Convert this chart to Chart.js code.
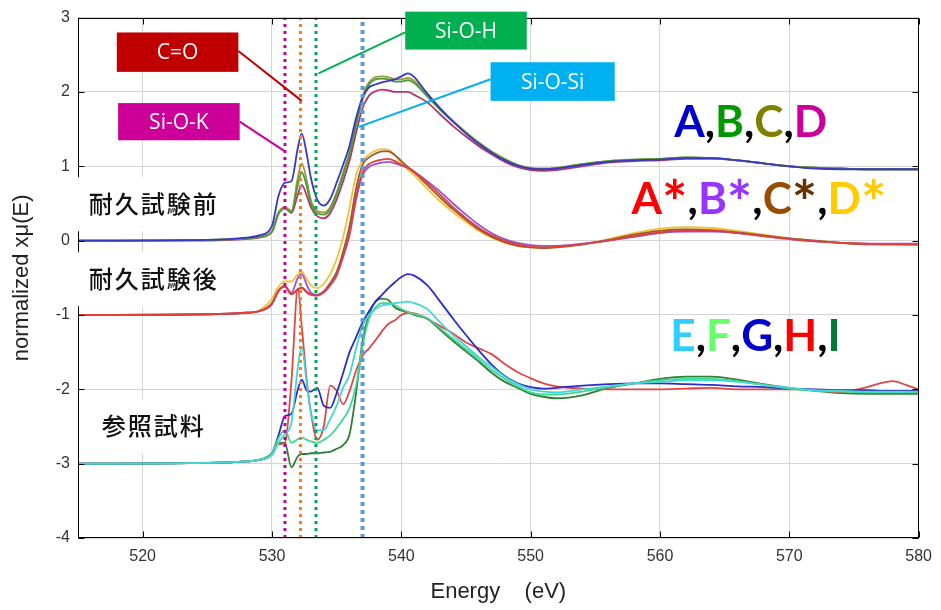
<!DOCTYPE html>
<html lang="ja">
<head>
<meta charset="UTF-8">
<title>O K-edge XANES</title>
<script src="https://cdn.jsdelivr.net/npm/chart.js"></script>
<style>
  html, body { margin: 0; padding: 0; background: #fff; }
</style>
</head>
<body>
<canvas id="xas" width="941" height="610"></canvas>
<script>
// energy grid (eV), shared by every spectrum
const energy = [515, 525, 528, 529, 530, 530.5, 531, 531.5, 532, 532.3,
  532.7, 533, 533.5, 534, 534.5, 535, 535.5, 536, 536.5, 537,
  537.5, 538, 538.5, 539, 539.5, 540, 540.5, 541, 542, 543,
  544, 545, 546, 547, 548, 549, 550, 551, 552, 554,
  556, 558, 560, 562, 564, 566, 568, 570, 572, 574,
  576, 577, 578, 579, 580];

// before durability test (offset 0)
const A = [0.00, 0.01, 0.04, 0.07, 0.20, 0.60, 0.78, 0.80, 1.25, 1.44,
  1.15, 0.85, 0.55, 0.47, 0.56, 0.78, 1.02, 1.28, 1.65, 1.92,
  2.06, 2.10, 2.13, 2.15, 2.17, 2.21, 2.25, 2.20, 1.98, 1.78,
  1.60, 1.44, 1.30, 1.18, 1.08, 1.01, 0.97, 0.96, 0.97, 1.02,
  1.06, 1.08, 1.09, 1.11, 1.11, 1.08, 1.04, 1.00, 0.97, 0.96,
  0.96, 0.96, 0.96, 0.96, 0.96];
const B = [0.00, 0.01, 0.03, 0.05, 0.12, 0.36, 0.43, 0.38, 0.75, 0.92,
  0.72, 0.50, 0.37, 0.35, 0.42, 0.62, 0.88, 1.16, 1.55, 1.90,
  2.10, 2.17, 2.18, 2.17, 2.14, 2.14, 2.16, 2.12, 1.94, 1.76,
  1.60, 1.45, 1.31, 1.19, 1.09, 1.01, 0.97, 0.96, 0.97, 1.03,
  1.07, 1.09, 1.10, 1.12, 1.11, 1.08, 1.04, 1.00, 0.98, 0.97,
  0.96, 0.96, 0.96, 0.96, 0.96];
const C = [0.00, 0.01, 0.03, 0.05, 0.13, 0.38, 0.45, 0.40, 0.85, 1.04,
  0.80, 0.55, 0.40, 0.38, 0.45, 0.65, 0.92, 1.20, 1.60, 1.95,
  2.13, 2.20, 2.21, 2.20, 2.17, 2.17, 2.19, 2.15, 1.96, 1.78,
  1.61, 1.46, 1.32, 1.20, 1.10, 1.02, 0.98, 0.97, 0.98, 1.03,
  1.07, 1.09, 1.10, 1.12, 1.11, 1.08, 1.04, 1.00, 0.98, 0.97,
  0.96, 0.96, 0.96, 0.96, 0.96];
const D = [0.00, 0.00, 0.02, 0.04, 0.12, 0.36, 0.44, 0.37, 0.62, 0.75,
  0.60, 0.45, 0.33, 0.30, 0.37, 0.55, 0.80, 1.08, 1.45, 1.78,
  1.95, 2.01, 2.03, 2.02, 2.00, 2.00, 2.00, 1.96, 1.86, 1.70,
  1.54, 1.40, 1.27, 1.16, 1.06, 0.99, 0.95, 0.94, 0.95, 1.00,
  1.05, 1.07, 1.08, 1.10, 1.10, 1.08, 1.04, 1.00, 0.98, 0.97,
  0.96, 0.96, 0.96, 0.96, 0.96];

// after durability test (offset -1)
const Astar = [-1.00, -0.99, -0.97, -0.95, -0.85, -0.68, -0.62, -0.72, -0.66, -0.64,
  -0.70, -0.73, -0.74, -0.70, -0.60, -0.47, -0.20, 0.10, 0.60, 0.92,
  1.03, 1.07, 1.09, 1.10, 1.07, 1.02, 0.98, 0.92, 0.78, 0.62,
  0.45, 0.30, 0.17, 0.07, 0.00, -0.05, -0.08, -0.09, -0.08, -0.05,
  0.00, 0.06, 0.11, 0.13, 0.13, 0.10, 0.06, 0.02, -0.01, -0.03,
  -0.04, -0.05, -0.05, -0.05, -0.05];
const Bstar = [-1.00, -0.99, -0.97, -0.95, -0.85, -0.68, -0.62, -0.70, -0.50, -0.45,
  -0.60, -0.70, -0.73, -0.69, -0.60, -0.46, -0.22, 0.08, 0.55, 0.88,
  0.99, 1.03, 1.05, 1.06, 1.04, 1.01, 0.98, 0.93, 0.80, 0.66,
  0.50, 0.35, 0.21, 0.10, 0.02, -0.03, -0.06, -0.07, -0.07, -0.04,
  0.00, 0.05, 0.10, 0.12, 0.12, 0.10, 0.06, 0.02, -0.01, -0.03,
  -0.04, -0.04, -0.04, -0.04, -0.04];
const Cstar = [-1.00, -0.99, -0.97, -0.95, -0.84, -0.67, -0.61, -0.72, -0.65, -0.63,
  -0.69, -0.72, -0.73, -0.68, -0.57, -0.42, -0.15, 0.20, 0.70, 1.02,
  1.12, 1.17, 1.20, 1.20, 1.15, 1.07, 0.99, 0.92, 0.75, 0.58,
  0.42, 0.28, 0.15, 0.05, -0.02, -0.07, -0.09, -0.10, -0.09, -0.05,
  0.01, 0.08, 0.13, 0.15, 0.14, 0.11, 0.07, 0.03, 0.00, -0.03,
  -0.05, -0.05, -0.05, -0.05, -0.05];
const Dstar = [-1.00, -0.99, -0.97, -0.94, -0.78, -0.62, -0.55, -0.55, -0.45, -0.42,
  -0.52, -0.60, -0.64, -0.58, -0.45, -0.25, 0.05, 0.45, 0.88, 1.08,
  1.16, 1.21, 1.23, 1.22, 1.15, 1.05, 0.96, 0.88, 0.70, 0.53,
  0.38, 0.25, 0.13, 0.04, -0.03, -0.07, -0.09, -0.10, -0.09, -0.05,
  0.02, 0.10, 0.16, 0.18, 0.17, 0.13, 0.08, 0.03, 0.00, -0.03,
  -0.05, -0.05, -0.05, -0.06, -0.06];

// reference samples (offset -3)
const E = [-3.00, -2.99, -2.97, -2.95, -2.88, -2.72, -2.60, -2.45, -1.70, -1.43,
  -1.95, -2.30, -2.55, -2.55, -2.40, -2.22, -1.98, -1.80, -1.45, -1.15,
  -1.00, -0.92, -0.87, -0.86, -0.84, -0.83, -0.82, -0.84, -0.92, -1.10,
  -1.27, -1.42, -1.57, -1.70, -1.83, -1.93, -2.00, -2.03, -2.04, -2.00,
  -1.96, -1.92, -1.90, -1.88, -1.88, -1.90, -1.94, -1.98, -2.01, -2.02,
  -2.03, -2.03, -2.03, -2.03, -2.03];
const F = [-3.00, -2.99, -2.97, -2.95, -2.86, -2.66, -2.55, -2.72, -2.67, -2.65,
  -2.68, -2.70, -2.72, -2.68, -2.62, -2.52, -2.40, -2.25, -1.95, -1.42,
  -1.05, -0.90, -0.84, -0.84, -0.87, -0.92, -0.96, -0.99, -1.04, -1.18,
  -1.32, -1.46, -1.60, -1.74, -1.86, -1.96, -2.04, -2.07, -2.07, -2.03,
  -1.97, -1.92, -1.88, -1.86, -1.86, -1.89, -1.94, -1.99, -2.02, -2.03,
  -2.04, -2.04, -2.04, -2.04, -2.04];
const G = [-3.00, -2.99, -2.97, -2.95, -2.86, -2.62, -2.36, -2.33, -2.00, -1.87,
  -2.02, -2.03, -1.98, -2.22, -2.25, -2.05, -1.78, -1.50, -1.30, -1.10,
  -0.95, -0.82, -0.73, -0.64, -0.56, -0.49, -0.45, -0.47, -0.60, -0.82,
  -1.05, -1.27, -1.48, -1.67, -1.82, -1.92, -1.97, -1.99, -1.98, -1.95,
  -1.93, -1.92, -1.92, -1.93, -1.94, -1.96, -1.97, -1.99, -2.00, -2.01,
  -2.01, -2.02, -2.02, -2.02, -2.02];
const H = [-3.00, -2.99, -2.97, -2.95, -2.88, -2.74, -2.72, -1.90, -0.65, -1.15,
  -1.90, -2.30, -2.68, -2.50, -1.95, -2.02, -2.20, -2.02, -1.75, -1.55,
  -1.45, -1.34, -1.22, -1.12, -1.07, -1.00, -0.97, -0.98, -1.05, -1.15,
  -1.25, -1.37, -1.45, -1.53, -1.66, -1.77, -1.85, -1.92, -1.96, -1.99,
  -2.00, -2.00, -2.00, -1.99, -1.98, -2.00, -2.00, -2.00, -2.01, -2.04,
  -1.97, -1.92, -1.89, -1.94, -2.00];
const I = [-3.00, -2.99, -2.97, -2.95, -2.86, -2.72, -2.72, -3.05, -2.90, -2.87,
  -2.87, -2.86, -2.86, -2.85, -2.84, -2.80, -2.75, -2.60, -2.05, -1.35,
  -1.00, -0.82, -0.78, -0.80, -0.90, -0.94, -0.96, -1.00, -1.05, -1.20,
  -1.35, -1.49, -1.63, -1.78, -1.90, -1.98, -2.06, -2.10, -2.12, -2.08,
  -1.98, -1.92, -1.86, -1.83, -1.83, -1.87, -1.93, -1.98, -2.02, -2.05,
  -2.06, -2.06, -2.06, -2.06, -2.06];

// dotted marker energies: Si-O-K, C=O, Si-O-H, Si-O-Si
const peakNames = ['Si-O-K', 'C=O', 'Si-O-H', 'Si-O-Si'];
const peakEnergy = [531.0, 532.2, 533.4, 537.0];

const xTicks = [520, 530, 540, 550, 560, 570, 580];
const yTicks = [-4, -3, -2, -1, 0, 1, 2, 3];

const series = [
  ['A', A, '#3838c4'], ['B', B, '#4a9a3a'], ['C', C, '#9c9a38'], ['D', D, '#b2346c'],
  ['A*', Astar, '#e0403a'], ['B*', Bstar, '#9b52d6'], ['C*', Cstar, '#9a5a2a'], ['D*', Dstar, '#f0c238'],
  ['E', E, '#44d6d6'], ['F', F, '#3ed98e'], ['G', G, '#2c2cc8'], ['H', H, '#e04646'], ['I', I, '#2f7d3a']
];
const peakColors = ['#cc0099', '#f47c20', '#00a650', '#5b9bd5'];

const datasets = series.map(([name, vals, col]) => ({
  label: name,
  data: energy.map((e, i) => ({ x: e, y: vals[i] })),
  borderColor: col,
  borderWidth: 1.8,
  pointRadius: 0,
  cubicInterpolationMode: 'monotone',
  fill: false
}));
peakEnergy.forEach((e, i) => {
  datasets.push({
    label: peakNames[i],
    data: [{ x: e, y: -4 }, { x: e, y: 3 }],
    borderColor: peakColors[i],
    borderWidth: i === 3 ? 4 : 3,
    borderDash: i === 3 ? [4, 4] : [3, 4],
    pointRadius: 0,
    order: -1
  });
});

// annotation tags (in data coordinates)
const tags = [
  { text: 'C=O', bg: '#c00000', box: [518.0, 2.80, 527.4, 2.27], from: [527.4, 2.55], to: [532.3, 1.88] },
  { text: 'Si-O-K', bg: '#cc0099', box: [518.1, 1.85, 527.5, 1.35], from: [527.5, 1.60], to: [531.0, 1.20] },
  { text: 'Si-O-H', bg: '#00b050', box: [540.3, 3.08, 549.7, 2.57], from: [540.3, 2.80], to: [533.6, 2.25] },
  { text: 'Si-O-Si', bg: '#00b0f0', box: [546.9, 2.40, 556.5, 1.88], from: [546.9, 2.17], to: [536.7, 1.53] }
];
const groupLabels = [
  { text: '耐久試験前', e: 520.85, v: 0.49 },
  { text: '耐久試験後', e: 520.85, v: -0.52 },
  { text: '参照試料', e: 520.85, v: -2.49 }
];
const legendRows = [
  { e: 561.1, v: 1.59, parts: [['A', '#0000cc'], [',', '#000'], ['B', '#009900'], [',', '#000'], ['C', '#808000'], [',', '#000'], ['D', '#cc0099']] },
  { e: 557.8, v: 0.55, parts: [['A', '#ff0000'], ['*', '#ff0000'], [',', '#000'], ['B', '#9933ff'], ['*', '#9933ff'], [',', '#000'], ['C', '#994c00'], ['*', '#663300'], [',', '#000'], ['D', '#ffcc00'], ['*', '#ffcc00']] },
  { e: 560.8, v: -1.29, parts: [['E', '#33ccff'], [',', '#000'], ['F', '#66ff66'], [',', '#000'], ['G', '#0000cc'], [',', '#000'], ['H', '#ff0000'], [',', '#000'], ['I', '#007a33']] }
];

const decor = {
  id: 'decor',
  afterDraw(chart) {
    const { ctx, chartArea: a, scales: { x, y } } = chart;
    const px = e => x.getPixelForValue(e);
    const py = v => y.getPixelForValue(v);
    ctx.save();

    // frame with inward ticks
    ctx.strokeStyle = '#000';
    ctx.lineWidth = 1;
    const L = Math.round(a.left) + 0.5, R = Math.round(a.right) - 0.5;
    const T = Math.round(a.top) + 0.5, Bm = Math.round(a.bottom) - 0.5;
    ctx.strokeRect(L, T, R - L, Bm - T);
    ctx.beginPath();
    xTicks.forEach(t => {
      const xx = Math.round(px(t)) + 0.5;
      ctx.moveTo(xx, Bm); ctx.lineTo(xx, Bm - 6);
      ctx.moveTo(xx, T); ctx.lineTo(xx, T + 6);
    });
    yTicks.forEach(t => {
      const yy = Math.round(py(t)) + 0.5;
      ctx.moveTo(L, yy); ctx.lineTo(L + 6, yy);
      ctx.moveTo(R, yy); ctx.lineTo(R - 6, yy);
    });
    ctx.stroke();

    // tags with connector lines
    tags.forEach(t => {
      ctx.strokeStyle = t.bg;
      ctx.lineWidth = 2;
      ctx.beginPath();
      ctx.moveTo(px(t.from[0]), py(t.from[1]));
      ctx.lineTo(px(t.to[0]), py(t.to[1]));
      ctx.stroke();
      const x0 = px(t.box[0]), y0 = py(t.box[1]), x1 = px(t.box[2]), y1 = py(t.box[3]);
      ctx.fillStyle = t.bg;
      ctx.fillRect(x0, y0, x1 - x0, y1 - y0);
      ctx.fillStyle = '#fff';
      ctx.font = '21px "Open Sans", sans-serif';
      ctx.textAlign = 'center';
      ctx.textBaseline = 'middle';
      ctx.fillText(t.text, (x0 + x1) / 2, (y0 + y1) / 2 + 1);
    });

    // group captions on white background
    ctx.font = '500 24px "Noto Sans CJK JP", sans-serif';
    ctx.letterSpacing = '2px';
    groupLabels.forEach(g => {
      const w = ctx.measureText(g.text).width;
      const cx = px(g.e), cy = py(g.v);
      ctx.fillStyle = '#fff';
      ctx.fillRect(cx - w / 2 - 14, cy - 27, w + 28, 54);
      ctx.fillStyle = '#111';
      ctx.textAlign = 'center';
      ctx.textBaseline = 'middle';
      ctx.fillText(g.text, cx, cy);
    });
    ctx.letterSpacing = '0px';

    // coloured sample legends (asterisks drawn larger, as in the source figure)
    ctx.textAlign = 'left';
    ctx.textBaseline = 'middle';
    legendRows.forEach(r => {
      let xx = px(r.e);
      const yy = py(r.v);
      r.parts.forEach(([s, c]) => {
        const star = s === '*';
        ctx.font = star ? 'bold 60px Lato, sans-serif' : 'bold 44px Lato, sans-serif';
        ctx.fillStyle = c;
        ctx.fillText(s, xx, star ? yy + 5 : yy);
        xx += ctx.measureText(s).width;
      });
    });
    ctx.restore();
  }
};

new Chart(document.getElementById('xas'), {
  type: 'line',
  data: { datasets },
  options: {
    responsive: false,
    animation: false,
    devicePixelRatio: 1,
    layout: { padding: { top: 13, right: 19, left: 0, bottom: 0 } },
    plugins: { legend: { display: false }, tooltip: { enabled: false } },
    scales: {
      x: {
        type: 'linear',
        min: 515,
        max: 580,
        afterBuildTicks: s => { s.ticks = xTicks.map(v => ({ value: v })); },
        afterFit: s => { s.height = 72; },
        grid: { color: '#d6d6d6', drawTicks: false },
        border: { display: false },
        ticks: { color: '#333', padding: 9, font: { family: 'Liberation Sans', size: 16 } },
        title: {
          display: true,
          text: 'Energy    (eV)',
          color: '#222',
          font: { family: 'Liberation Sans', size: 22 },
          padding: { top: 0, bottom: 5 }
        }
      },
      y: {
        min: -4,
        max: 3,
        afterBuildTicks: s => { s.ticks = yTicks.map(v => ({ value: v })); },
        afterFit: s => { s.width = 78; },
        grid: { color: '#d6d6d6', drawTicks: false },
        border: { display: false },
        ticks: { color: '#333', padding: 8, font: { family: 'Liberation Sans', size: 16 } },
        title: {
          display: true,
          text: 'normalized xμ(E)',
          color: '#222',
          font: { family: 'Liberation Sans', size: 22 },
          padding: { top: 9, bottom: 0 }
        }
      }
    }
  },
  plugins: [decor]
});
</script>
</body>
</html>
